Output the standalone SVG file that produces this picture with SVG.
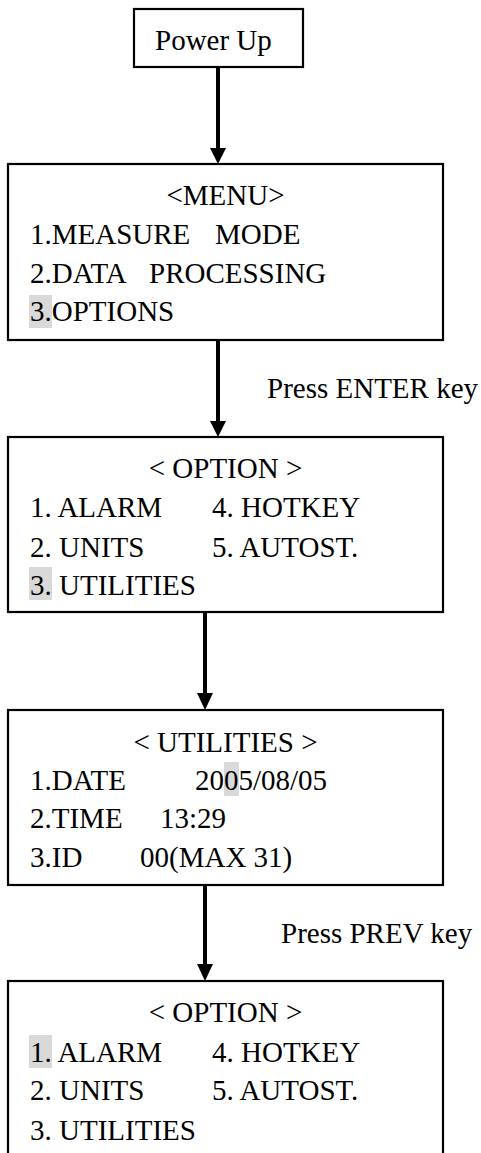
<svg xmlns="http://www.w3.org/2000/svg" width="481" height="1153" viewBox="0 0 481 1153">
<style>
.box{fill:#fff;stroke:#000;stroke-width:2.2}
.t{font-family:"Liberation Serif","Times New Roman",serif;font-size:29px;fill:#000}
.c{text-anchor:middle}
.hl{fill:#d9d9d9}
.conn{stroke:#000;stroke-width:4;fill:none}
.head{fill:#000}
</style>
<rect width="481" height="1153" fill="#fff"/>
<g id="connectors">
<line class="conn" x1="218" y1="67" x2="218" y2="150"/>
<path class="head" d="M210,148 L226,148 L218,164 Z"/>
<line class="conn" x1="218" y1="340" x2="218" y2="423"/>
<path class="head" d="M210,421 L226,421 L218,437 Z"/>
<line class="conn" x1="205" y1="612" x2="205" y2="695"/>
<path class="head" d="M197,693 L213,693 L205,710 Z"/>
<line class="conn" x1="205" y1="885" x2="205" y2="966"/>
<path class="head" d="M197,964 L213,964 L205,981 Z"/>
<text class="t" x="267" y="398">Press ENTER key</text>
<text class="t" x="281" y="943">Press PREV key</text>
</g>
<g id="power-up">
<rect class="box" x="134" y="9" width="169" height="58"/>
<text class="t" x="155" y="50">Power Up</text>
</g>
<g id="menu">
<rect class="box" x="8" y="164" width="435" height="176"/>
<rect class="hl" x="29" y="295" width="23" height="33"/>
<text class="t c" x="225.5" y="205">&lt;MENU&gt;</text>
<text class="t" x="30" y="244">1.MEASURE<tspan x="215">MODE</tspan></text>
<text class="t" x="30" y="283">2.DATA<tspan x="149">PROCESSING</tspan></text>
<text class="t" x="30" y="321">3.OPTIONS</text>
</g>
<g id="option1">
<rect class="box" x="8" y="437" width="435" height="175"/>
<rect class="hl" x="29" y="567" width="23" height="33"/>
<text class="t c" x="225.5" y="478">&lt; OPTION &gt;</text>
<text class="t" x="30" y="517">1. ALARM<tspan x="212">4. HOTKEY</tspan></text>
<text class="t" x="30" y="557">2. UNITS<tspan x="212">5. AUTOST.</tspan></text>
<text class="t" x="30" y="595">3. UTILITIES</text>
</g>
<g id="utilities">
<rect class="box" x="8" y="710" width="435" height="175"/>
<rect class="hl" x="224" y="762" width="15" height="34"/>
<text class="t c" x="225.5" y="752">&lt; UTILITIES &gt;</text>
<text class="t" x="30" y="790">1.DATE<tspan x="195">2005/08/05</tspan></text>
<text class="t" x="30" y="828">2.TIME<tspan x="160">13:29</tspan></text>
<text class="t" x="30" y="867">3.ID<tspan x="140">00(MAX 31)</tspan></text>
</g>
<g id="option2">
<rect class="box" x="8" y="981" width="435" height="190"/>
<rect class="hl" x="29" y="1035" width="23" height="33"/>
<text class="t c" x="225.5" y="1022">&lt; OPTION &gt;</text>
<text class="t" x="30" y="1062">1. ALARM<tspan x="212">4. HOTKEY</tspan></text>
<text class="t" x="30" y="1100">2. UNITS<tspan x="212">5. AUTOST.</tspan></text>
<text class="t" x="30" y="1140">3. UTILITIES</text>
</g>
</svg>
